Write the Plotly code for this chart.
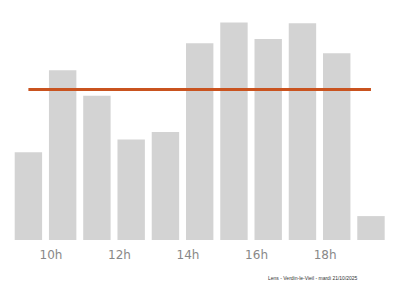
import plotly.graph_objects as go

hours = [9, 10, 11, 12, 13, 14, 15, 16, 17, 18, 19]
values = [40.4, 78.1, 66.4, 46.2, 49.7, 90.5, 100, 92.5, 99.7, 85.9, 11.0]
avg_value = 69.2
tick_hours = [10, 12, 14, 16, 18]
tick_labels = ["10h", "12h", "14h", "16h", "18h"]
caption = "Lens - Verdin-le-Vieil - mardi 21/10/2025"

tick_shift = 0.34

fig = go.Figure()
fig.add_trace(go.Bar(
    x=hours, y=values, width=0.8,
    marker=dict(color="#d3d3d3", line=dict(width=0)),
    hoverinfo="skip",
))
fig.add_trace(go.Scatter(
    x=[hours[0], hours[-1]], y=[avg_value, avg_value],
    mode="lines", line=dict(color="#c9531f", width=3),
    hoverinfo="skip",
))

fig.update_layout(
    width=400, height=286,
    margin=dict(l=0, r=0, t=0, b=46),
    paper_bgcolor="white", plot_bgcolor="white",
    showlegend=False,
    xaxis=dict(
        range=[8.171, 19.847],
        tickvals=[h - tick_shift for h in tick_hours],
        ticktext=tick_labels,
        showgrid=False, zeroline=False, showline=False, ticks="",
        tickfont=dict(family="DejaVu Sans", size=12, color="#888888"),
        ticklabelstandoff=6,
        fixedrange=True,
    ),
    yaxis=dict(
        range=[0, 110.4],
        visible=False, showgrid=False, zeroline=False,
        fixedrange=True,
    ),
    annotations=[dict(
        text=caption, xref="paper", yref="paper",
        x=0.9, y=-0.16, xanchor="right", yanchor="middle",
        showarrow=False,
        font=dict(family="Liberation Sans", size=5, color="#333333"),
    )],
)

fig.write_html("out.html", config={"displayModeBar": False})
